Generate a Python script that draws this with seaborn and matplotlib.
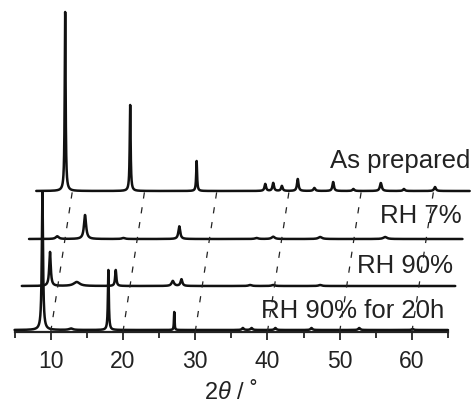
import numpy as np
import pandas as pd
import seaborn as sns
import matplotlib.pyplot as plt

# peak lists for each pattern (2theta own scale, height in px-ish units, fwhm in deg)
names = ['RH 90% for 20h', 'RH 90%', 'RH 7%', 'As prepared']
x_shift = [0, 1, 2, 3]           # waterfall shift in degrees
baseline = [2, 46, 93, 141]

pos_20h = [8.85, 12.8, 17.98, 27.1, 36.6, 37.8, 41.1, 46.1, 52.7, 60.1]
hgt_20h = [138, 1.5, 60, 18, 2, 2, 2, 2, 2, 1]
wid_20h = [0.2, 0.6, 0.15, 0.1, 0.3, 0.3, 0.3, 0.3, 0.3, 0.3]

pos_90 = [8.9, 12.6, 18.0, 25.9, 27.1, 36.6, 39.8, 46.3]
hgt_90 = [34, 4, 16, 5, 6.7, 1, 1, 1]
wid_90 = [0.25, 1.0, 0.2, 0.4, 0.3, 0.5, 0.5, 0.5]

pos_7 = [8.9, 12.75, 18.06, 25.8, 36.5, 38.8, 45.3, 54.3]
hgt_7 = [2.7, 24, 1, 12.7, 1, 2.3, 2, 2]
wid_7 = [0.5, 0.35, 0.5, 0.3, 0.5, 0.5, 0.6, 0.6]

pos_ap = [9.0, 18.0, 27.2, 36.7, 37.8, 39.0, 41.2, 43.5, 46.1, 48.9, 52.7, 55.9, 60.2]
hgt_ap = [179, 86, 30, 7, 8, 5, 12, 3, 9, 2, 8, 2, 4]
wid_ap = [0.15, 0.15, 0.15, 0.25, 0.25, 0.25, 0.25, 0.3, 0.25, 0.3, 0.3, 0.3, 0.3]

peaks = [(pos_20h, hgt_20h, wid_20h), (pos_90, hgt_90, wid_90),
         (pos_7, hgt_7, wid_7), (pos_ap, hgt_ap, wid_ap)]

label_x = [64.5, 65.7, 66.95, 68.1]
label_y = [15, 60, 110, 165]

tick_major = [10, 20, 30, 40, 50, 60]

# build the traces
tt = np.linspace(5, 65, 6001)
frames = []
for i, (p, h, w) in enumerate(peaks):
    y = np.zeros_like(tt)
    for pp, hh, ww in zip(p, h, w):
        g = ww / 2
        y += hh * g**2 / ((tt - pp)**2 + g**2)
    frames.append(pd.DataFrame({'x': tt + x_shift[i], 'y': y + baseline[i], 'trace': names[i]}))
df = pd.concat(frames)

sns.set_style('ticks')
plt.rcParams['font.family'] = ['Liberation Sans', 'DejaVu Sans']
plt.rcParams['mathtext.fontset'] = 'custom'
plt.rcParams['mathtext.it'] = 'Liberation Sans:italic'
plt.rcParams['mathtext.rm'] = 'Liberation Sans'

fig = plt.figure(figsize=(4.73, 4.06), dpi=100)
ax = fig.add_axes([14.6 / 473, 73 / 406, (448 - 14.6) / 473, 333 / 406])

sns.lineplot(data=df, x='x', y='y', units='trace', estimator=None, color='#111111',
             lw=1.8, clip_on=False, ax=ax, legend=False)

# dashed guide lines linking the shifted axes
for t in tick_major:
    ax.plot([t, t + 3], [0, baseline[3]], color='#222222', lw=0.9, ls=(0, (5, 7)), clip_on=False)

for i in range(4):
    ax.text(label_x[i], label_y[i], names[i], ha='right', va='baseline', fontsize=18.5,
            color='#222222', clip_on=False)

ax.set_xlim(5, 65)
ax.set_ylim(0, 333)
ax.set_xticks(tick_major)
ax.set_xticks(np.arange(5, 66, 10), minor=True)
ax.set_yticks([])
ax.tick_params(axis='x', which='major', direction='out', length=6, width=1.3, labelsize=16.5, pad=6, colors='#222222')
ax.tick_params(axis='x', which='minor', direction='out', length=4.5, width=1.3, colors='#222222')
for s in ['left', 'right', 'top']:
    ax.spines[s].set_visible(False)
ax.spines['bottom'].set_linewidth(1.6)
ax.spines['bottom'].set_color('#222222')
ax.patch.set_alpha(0)
ax.set_xlabel(r'2$\it{\theta}$ / ˚', fontsize=17, labelpad=5, color='#222222')
ax.set_ylabel('')

fig.savefig('out.png', dpi=100)
